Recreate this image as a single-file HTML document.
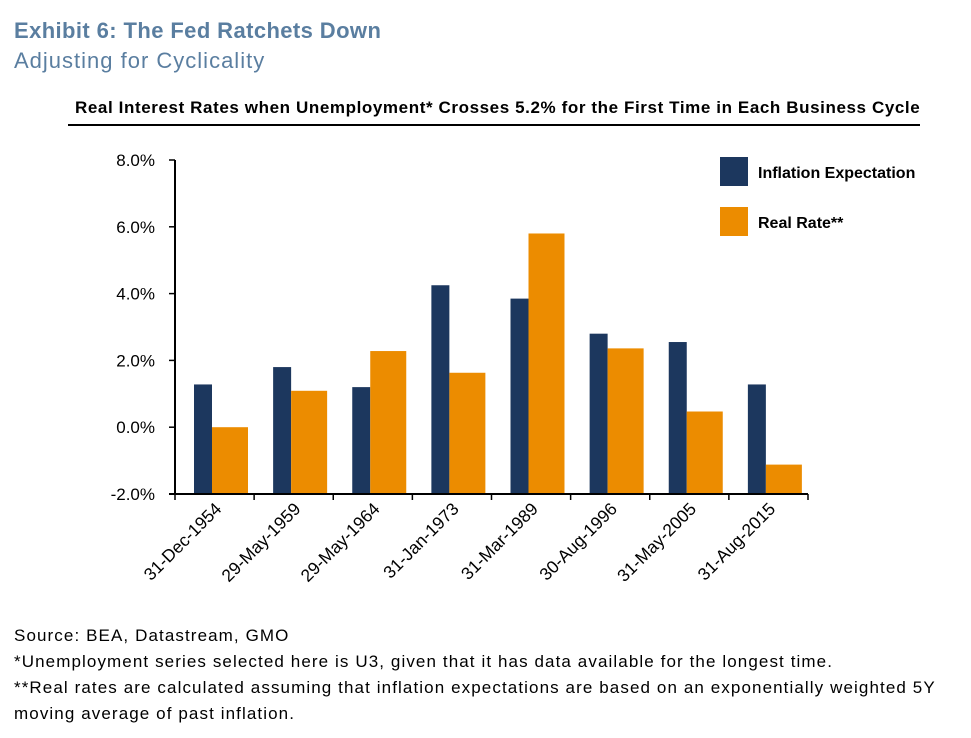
<!DOCTYPE html>
<html><head><meta charset="utf-8"><style>
body{margin:0;background:#fff;width:971px;height:738px;overflow:hidden;font-family:"Liberation Sans",sans-serif;}
.t{position:absolute;white-space:nowrap;}
.fn{font-size:17px;letter-spacing:1.1px;}
</style></head><body>
<div class="t" style="left:14px;top:18px;font-size:22px;font-weight:bold;color:#5a7ea0;letter-spacing:0.4px;">Exhibit 6: The Fed Ratchets Down</div>
<div class="t" style="left:14px;top:48px;font-size:22px;color:#5a7ea0;letter-spacing:1px;">Adjusting for Cyclicality</div>
<div class="t" style="left:75px;top:98px;font-size:17px;font-weight:bold;color:#000;letter-spacing:0.6px;">Real Interest Rates when Unemployment* Crosses 5.2% for the First Time in Each Business Cycle</div>
<div style="position:absolute;left:68px;top:124px;width:852px;height:2px;background:#000;"></div>
<svg id="chart" width="971" height="738" style="position:absolute;left:0;top:0;"></svg>
<div class="t fn" style="left:14px;top:626px;">Source: BEA, Datastream, GMO</div>
<div class="t fn" style="left:14px;top:652px;">*Unemployment series selected here is U3, given that it has data available for the longest time.</div>
<div class="t fn" style="left:14px;top:678px;">**Real rates are calculated assuming that inflation expectations are based on an exponentially weighted 5Y</div>
<div class="t fn" style="left:14px;top:704px;">moving average of past inflation.</div>
<script>
const categories=["31-Dec-1954","29-May-1959","29-May-1964","31-Jan-1973","31-Mar-1989","30-Aug-1996","31-May-2005","31-Aug-2015"];
const inflation=[1.28,1.8,1.2,4.25,3.85,2.8,2.55,1.28];
const realRate=[0.0,1.09,2.28,1.63,5.8,2.36,0.47,-1.12];
const yTicks=[-2,0,2,4,6,8];
const NS="http://www.w3.org/2000/svg";
const svg=document.getElementById('chart');
const x0=175,x1=808,yMin=-2,yMax=8,yTop=160,yBot=494;
const cw=(x1-x0)/categories.length;
function y(v){return yBot-(v-yMin)/(yMax-yMin)*(yBot-yTop);}
function mk(t,a){const e=document.createElementNS(NS,t);for(const k in a)e.setAttribute(k,a[k]);svg.appendChild(e);return e;}
categories.forEach((c,i)=>{
  const cx=x0+i*cw;
  const b1=mk('rect',{x:cx+19,y:y(inflation[i]),width:18,height:yBot-y(inflation[i]),fill:'#1c375e'});
  
  
  const b2=mk('rect',{x:cx+37,y:y(realRate[i]),width:36,height:yBot-y(realRate[i]),fill:'#ec8c00'});
  
  
  const tx=cx+cw/2+8,ty=yBot+16;
  const l=mk('text',{x:tx,y:ty,'font-size':17.5,'text-anchor':'end',transform:`rotate(-45 ${tx} ${ty})`,'font-family':'Liberation Sans, sans-serif'});
  l.textContent=c;
  
  
});
for(let i=0;i<=categories.length;i++){const t=mk('line',{x1:x0+i*cw,x2:x0+i*cw,y1:yBot,y2:yBot+6,stroke:'#000','stroke-width':1.5});}
yTicks.forEach(v=>{
  const t=mk('line',{x1:x0-6,x2:x0,y1:y(v),y2:y(v),stroke:'#000','stroke-width':1.5});
  
  
  const l=mk('text',{x:x0-20,y:y(v)+6,'font-size':17,'text-anchor':'end','font-family':'Liberation Sans, sans-serif'});
  l.textContent=v.toFixed(1)+'%';
  
  
});
const ya=mk('line',{x1:x0,x2:x0,y1:yTop,y2:yBot,stroke:'#000','stroke-width':2});


const xa=mk('line',{x1:x0-6,x2:x1,y1:yBot,y2:yBot,stroke:'#000','stroke-width':2});


const lg=[["Inflation Expectation","#1c375e",157],["Real Rate**","#ec8c00",207]];
lg.forEach(d=>{
  const r=mk('rect',{x:720,y:d[2],width:28,height:29,fill:d[1]});
  
  
  const t=mk('text',{x:758,y:d[2]+21,'font-size':16,'font-weight':'bold','font-family':'Liberation Sans, sans-serif'});
  t.textContent=d[0];
  
  
});
</script>
</body></html>
